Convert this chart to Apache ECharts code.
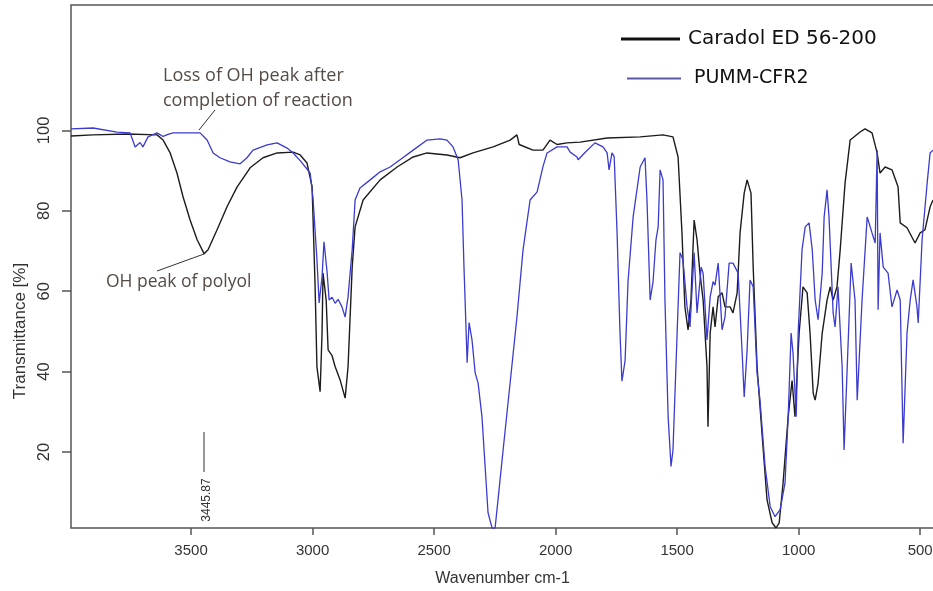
<!DOCTYPE html>
<html>
<head>
<meta charset="utf-8">
<script src="https://cdn.jsdelivr.net/npm/echarts@6/dist/echarts.min.js"></script>
<style>
html,body{margin:0;padding:0;background:#fff;}
#chart{width:933px;height:591px;}
</style>
</head>
<body>
<div id="chart"></div>
<script>
// [wavenumber cm-1, transmittance %]
const caradolSpectrum = [
[3994,98.6],[3903,98.9],[3763,99.1],[3640,98.9],[3615,97.6],[3586,94.4],[3558,89.4],[3533,83.5],[3504,77.7],[3475,72.8],
[3446,69.3],[3430,70.3],[3393,75.3],[3352,81],[3311,85.9],[3257,90.7],[3204,93.2],[3146,94.4],[3080,94.6],[3051,93.9],
[3023,91.9],[3002,86],[2990,62.1],[2982,41.2],[2969,35],[2961,49.6],[2957,64.5],[2944,57.8],[2936,45.4],[2920,44],
[2907,41.2],[2887,38],[2866,33.4],[2854,41.2],[2837,66],[2825,76],[2792,82.7],[2722,87.7],[2652,90.9],[2586,93.4],
[2529,94.4],[2447,93.9],[2393,93.2],[2340,94.4],[2257,95.9],[2187,97.6],[2159,98.9],[2150,96.5],[2093,95.1],[2052,95.1],
[2023,97.6],[1994,96.5],[1953,96.9],[1899,97.1],[1788,98.1],[1652,98.4],[1558,98.9],[1517,98.4],[1496,93.4],[1480,74.5],
[1468,56.1],[1455,50.4],[1443,57.8],[1430,77.7],[1418,72.8],[1406,64.5],[1393,57.8],[1377,41.2],[1373,26.3],[1364,49.6],
[1352,56.1],[1344,51.1],[1331,58.6],[1315,59.6],[1303,56.1],[1282,56.1],[1270,54.6],[1253,59.6],[1241,74.5],[1224,84.4],
[1212,87.7],[1196,84.4],[1187,66],[1171,41.2],[1151,24.8],[1130,8.1],[1109,2.4],[1093,1.1],[1080,2.4],[1064,12.3],
[1043,28.8],[1027,37.8],[1015,28.8],[998,49.6],[982,61.1],[965,59.6],[953,49.6],[940,34.6],[932,32.9],[920,37.1],
[903,49.6],[883,57.8],[870,61.1],[858,57.8],[842,61.1],[829,70.3],[809,86.9],[788,97.6],[747,99.6],[727,100.4],
[698,99.4],[677,94.4],[665,89.4],[644,90.9],[616,90.2],[591,86],[582,77],[554,75.8],[521,72],[500,74.5],
[480,75.3],[459,81],[447,82.7]
];
const pummSpectrum = [
[3994,100.4],[3903,100.6],[3805,99.6],[3751,99.4],[3730,95.9],[3710,97],[3698,95.9],[3677,98.4],[3640,99.4],[3615,98.5],
[3595,99],[3574,99.4],[3463,99.4],[3434,97.6],[3409,94.4],[3381,93.2],[3340,92.2],[3298,91.7],[3270,93.2],[3245,95.1],
[3187,96.4],[3146,96.9],[3105,95.6],[3080,94.4],[3051,92.5],[3023,90.4],[3010,89.4],[2998,83],[2982,67.8],[2973,57.1],
[2961,63.6],[2953,72.3],[2940,64.6],[2932,57.8],[2920,58.5],[2907,57],[2895,58],[2879,56.1],[2866,53.6],[2854,58.6],
[2837,70.3],[2825,82.7],[2805,85.7],[2763,87.7],[2722,89.7],[2681,90.9],[2640,92.7],[2586,95.1],[2529,97.6],[2475,97.9],
[2447,97.6],[2422,95.9],[2401,92.7],[2385,82.7],[2377,66],[2368,49.6],[2364,42.2],[2356,52.2],[2344,47.9],[2331,39.7],
[2319,37.2],[2303,28.8],[2290,16.4],[2278,4.9],[2261,1.0],[2249,1.1],[2237,8.1],[2216,20.5],[2187,37.3],[2159,53.6],
[2134,70.3],[2105,82.7],[2076,84.7],[2052,91],[2035,94.4],[1994,95.9],[1953,95.9],[1940,94.6],[1912,93.4],[1907,92.7],
[1879,94.5],[1838,96.9],[1805,95.9],[1788,94.4],[1780,90.2],[1768,94.4],[1759,93.5],[1747,74.5],[1735,49.6],[1727,37.6],
[1714,42.8],[1702,62.4],[1681,78.5],[1652,90.9],[1632,93.2],[1624,82.7],[1611,57.8],[1599,62.4],[1587,72.8],[1578,76],
[1570,90.2],[1558,87.7],[1550,57.8],[1537,28.8],[1525,16.4],[1517,20.5],[1500,49.6],[1488,69.6],[1476,67.8],[1459,56.1],
[1447,51.1],[1430,69.6],[1418,54.6],[1401,66],[1393,64.5],[1377,47.9],[1364,58.6],[1352,62.4],[1344,61.5],[1331,67],
[1315,50.4],[1303,53.6],[1286,67],[1270,67],[1249,64.5],[1233,45.4],[1224,33.7],[1212,45.4],[1200,62.8],[1187,61.1],
[1171,39.7],[1159,32.9],[1138,16.4],[1117,6.4],[1097,3.9],[1076,5.7],[1056,12.3],[1043,28.8],[1031,49.6],[1023,44.6],
[1010,28.8],[1002,49.6],[986,70.3],[973,76],[957,77],[944,70.3],[932,57.8],[920,52.9],[903,64.5],[895,78.5],
[883,85.2],[875,78.5],[858,54.6],[850,51.1],[838,61.1],[821,41.2],[813,20.5],[800,41.2],[784,67],[768,57.8],
[759,32.9],[739,57.8],[718,78.5],[698,74.5],[685,72],[677,95.1],[673,55.4],[665,74.5],[652,66],[632,64.5],
[616,56.1],[595,60.3],[582,57.8],[570,22.2],[554,49.6],[541,57.8],[529,62.8],[513,56.1],[508,52.1],[492,72.8],
[471,87],[459,94.4],[447,95.1]
];
const seriesNames = ['Caradol ED 56-200', 'PUMM-CFR2'];
const xTickValues = [3500, 3000, 2500, 2000, 1500, 1000, 500];
const yTickValues = [20, 40, 60, 80, 100];
const peakLabel = '3445.87';

const chart = echarts.init(document.getElementById('chart'), null, {renderer: 'canvas'});
const axisFont = '"Liberation Sans", Arial, sans-serif';
const noteFont = '"Open Sans", sans-serif';
const legendFont = '"DejaVu Sans", Verdana, sans-serif';

chart.setOption({
  animation: false,
  backgroundColor: '#fff',
  grid: {left: 71, top: 5, right: -1, bottom: 63, show: true, borderColor: '#555', borderWidth: 1.5,
         containLabel: false, outerBoundsMode: 'none'},
  xAxis: {
    type: 'value', inverse: true, min: 443, max: 3994,
    name: 'Wavenumber cm-1', nameLocation: 'middle', nameGap: 43,
    nameTextStyle: {fontSize: 16, color: '#333', fontFamily: axisFont},
    axisLine: {show: false},
    axisTick: {show: true, length: 7, lineStyle: {color: '#555', width: 1.5}, customValues: xTickValues},
    axisLabel: {fontSize: 15, color: '#333', margin: 15, fontFamily: axisFont, customValues: xTickValues,
                formatter: function (v) { return String(v); }},
    splitLine: {show: false}
  },
  yAxis: {
    type: 'value', min: 1.1, max: 131.2,
    axisLine: {show: false},
    axisTick: {show: true, length: 9, lineStyle: {color: '#555', width: 1.5}, customValues: yTickValues},
    axisLabel: {fontSize: 16.5, color: '#333', rotate: 90, margin: 18, fontFamily: axisFont, customValues: yTickValues,
                formatter: function (v) { return String(v); }},
    splitLine: {show: false}
  },
  legend: [
    {left: 621, top: 29, padding: 0, itemWidth: 59, itemHeight: 3, icon: 'rect', selectedMode: false,
     data: [{name: seriesNames[0], itemStyle: {color: '#111'}}],
     textStyle: {fontSize: 20, color: '#111', fontFamily: legendFont, padding: [0, 0, 0, 3]}},
    {left: 627, top: 69, padding: 0, itemWidth: 54, itemHeight: 2, icon: 'rect', selectedMode: false,
     data: [{name: seriesNames[1], itemStyle: {color: '#5a5aa8'}}],
     textStyle: {fontSize: 19, color: '#111', fontFamily: legendFont, padding: [0, 0, 0, 8]}}
  ],
  series: [
    {name: seriesNames[0], type: 'line', data: caradolSpectrum, showSymbol: false, symbol: 'none',
     lineStyle: {color: '#1c1c1c', width: 1.4}, itemStyle: {color: '#1c1c1c'}, z: 2},
    {name: seriesNames[1], type: 'line', data: pummSpectrum, showSymbol: false, symbol: 'none',
     lineStyle: {color: '#3b3bcf', width: 1.3}, itemStyle: {color: '#3b3bcf'}, z: 3}
  ],
  graphic: [
    {type: 'text', x: 20, y: 331, rotation: Math.PI / 2,
     style: {text: 'Transmittance [%]', fontSize: 17, fontFamily: axisFont, fill: '#333', align: 'center', verticalAlign: 'middle'}},
    {type: 'text', x: 163, y: 76,
     style: {text: 'Loss of OH peak after', fontSize: 18, fontFamily: noteFont, fill: '#554b45', align: 'left', verticalAlign: 'middle'}},
    {type: 'text', x: 163, y: 101,
     style: {text: 'completion of reaction', fontSize: 18, fontFamily: noteFont, fill: '#554b45', align: 'left', verticalAlign: 'middle'}},
    {type: 'line', shape: {x1: 215, y1: 110, x2: 199, y2: 130}, style: {stroke: '#333', lineWidth: 1}},
    {type: 'text', x: 106, y: 282,
     style: {text: 'OH peak of polyol', fontSize: 17.5, fontFamily: noteFont, fill: '#554b45', align: 'left', verticalAlign: 'middle'}},
    {type: 'line', shape: {x1: 157, y1: 271, x2: 204, y2: 254}, style: {stroke: '#333', lineWidth: 1}},
    {type: 'line', shape: {x1: 204, y1: 432, x2: 204, y2: 472}, style: {stroke: '#333', lineWidth: 1}},
    {type: 'text', x: 207, y: 500, rotation: Math.PI / 2,
     style: {text: peakLabel, fontSize: 12, fontFamily: axisFont, fill: '#333', align: 'center', verticalAlign: 'middle'}}
  ]
});
</script>
</body>
</html>
